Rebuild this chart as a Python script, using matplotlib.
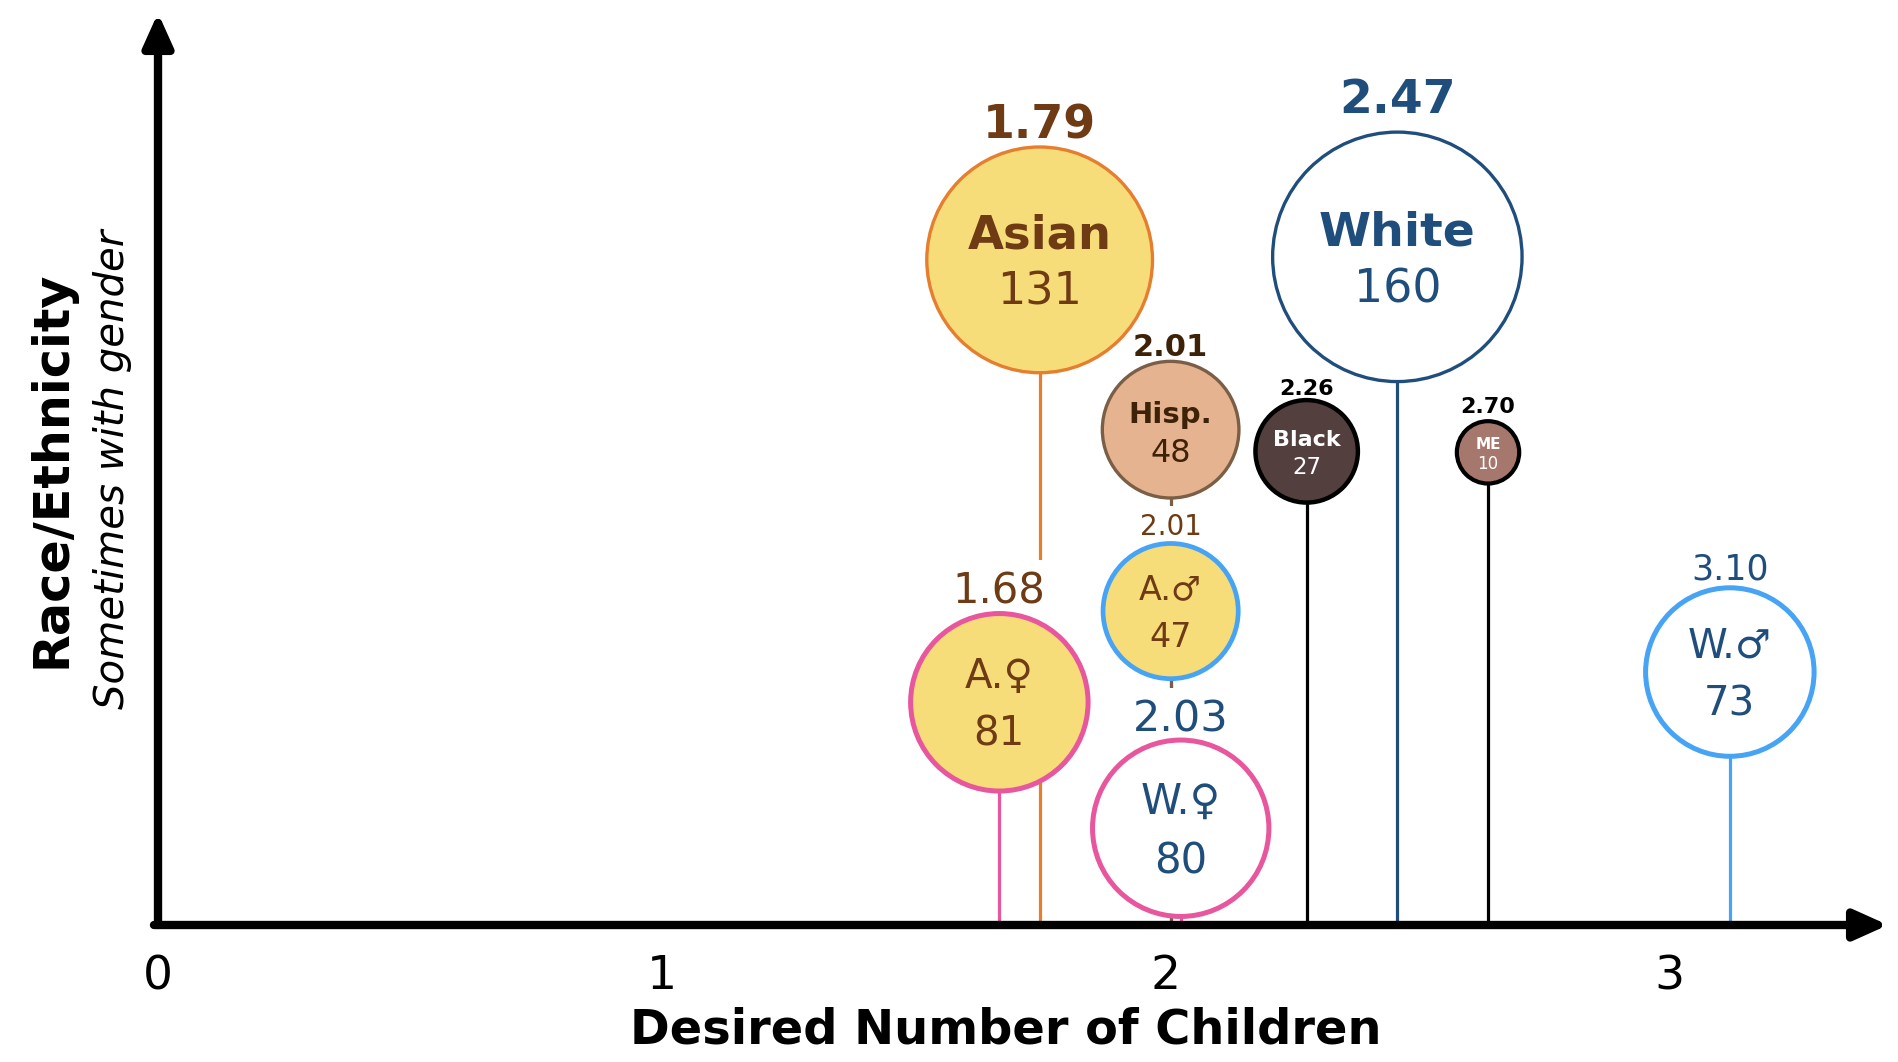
import numpy as np
import matplotlib.pyplot as plt
from matplotlib.patches import Circle

# bubbles, drawn in this order (later stems sit on top of earlier ones)
groups = ['Asian', 'White', 'A.♂', 'Hisp.', 'Black', 'ME', 'A.♀', 'W.♀', 'W.♂']
means = [1.79, 2.47, 2.01, 2.01, 2.26, 2.70, 1.68, 2.03, 3.10]
counts = [131, 160, 47, 48, 27, 10, 81, 80, 73]
# where each bubble sits on the desired-children axis, and its height
x_at = [1.75, 2.46, 2.01, 2.01, 2.28, 2.64, 1.67, 2.03, 3.12]
level = [1.32, 1.326, 0.623, 0.983, 0.940, 0.938, 0.442, 0.192, 0.502]

yellow = '#F7DD79'
brown = '#6E3B14'
navy = '#1F4E7D'
pink = '#E8579E'
sky = '#47A4F5'
fills = [yellow, 'white', yellow, '#E6B390', '#53403E', '#A6776C', yellow, 'white', 'white']
edges = ['#E67E2F', navy, sky, '#7A5F46', 'black', 'black', pink, pink, sky]
txt_c = [brown, navy, brown, '#3E2208', 'white', 'white', brown, navy, navy]
val_c = [brown, navy, brown, '#3E2208', 'black', 'black', brown, navy, navy]
bold = [True, True, False, True, True, True, False, False, False]
fs_name = [33.5, 34, 24, 21, 16, 11, 29, 30, 29]
fs_num = [32, 33, 24, 23, 16.5, 12, 29, 30, 29]
fs_val = [33, 34, 20, 22, 16, 16, 30, 31, 25]
val_gap = [6, 14, 6, 4, 4, 6, 7, 6, 6]
edge_lw = [2.4, 2.4, 3.4, 2.4, 3.2, 3.0, 3.6, 3.6, 3.6]

fig = plt.figure(figsize=(18.98, 10.62), dpi=100)
ax = fig.add_axes([0.08325, 0.1290, 0.9115, 0.8588])
ax.set_xlim(0, 3.434)
ax.set_ylim(0, 1.810)
for s in ax.spines.values():
    s.set_visible(False)
ax.set_yticks([])
ax.set_xticks([0, 1, 2, 3])
ax.tick_params(axis='x', length=0, labelsize=34, pad=21)

# axis arrows
arr = dict(arrowstyle='-|>,head_length=1.0,head_width=0.45', lw=6, color='black',
           shrinkA=0, shrinkB=0, mutation_scale=20)
ax.annotate('', xy=(3.434, 0), xytext=(-0.008, 0), arrowprops=arr, annotation_clip=False)
ax.annotate('', xy=(0, 1.810), xytext=(0, 0), arrowprops=arr, annotation_clip=False)

ax.set_xlabel('Desired Number of Children', fontsize=34.5, fontweight='bold')
ax.xaxis.set_label_coords(0.490, -0.089)
ax.set_ylabel('Race/Ethnicity', fontsize=35.5, fontweight='bold')
ax.yaxis.set_label_coords(-0.0477, 0.5)
ax.text(-0.0263, 0.5, 'Sometimes with gender', transform=ax.transAxes, rotation=90,
        fontsize=29, style='italic', ha='center', va='center')

for i in range(len(groups)):
    r = 0.01957 * np.sqrt(counts[i])
    x, y = x_at[i], level[i]
    ax.plot([x, x], [0, y], color=edges[i], lw=2.3, zorder=1, solid_capstyle='butt')
    ax.add_patch(Circle((x, y), r, facecolor=fills[i], edgecolor=edges[i],
                        lw=edge_lw[i], zorder=2, clip_on=False))
    w = 'bold' if bold[i] else 'normal'
    up = 0.24 if bold[i] else 0.36
    ax.annotate(groups[i], (x, y), xytext=(0, up * fs_name[i]), textcoords='offset points',
                ha='center', va='baseline', fontsize=fs_name[i], fontweight=w,
                color=txt_c[i], zorder=4)
    down = 1.0 if bold[i] else 1.08
    ax.annotate(str(counts[i]), (x, y), xytext=(0, -down * fs_num[i]), textcoords='offset points',
                ha='center', va='baseline', fontsize=fs_num[i], color=txt_c[i], zorder=4)
    ax.annotate(f'{means[i]:.2f}', (x, y + r), xytext=(0, val_gap[i]), textcoords='offset points',
                ha='center', va='baseline', fontsize=fs_val[i], fontweight=w,
                color=val_c[i], zorder=1.5,
                bbox=dict(boxstyle='square,pad=0.25', fc='white', ec='none'))

fig.savefig('out.png', dpi=100)
